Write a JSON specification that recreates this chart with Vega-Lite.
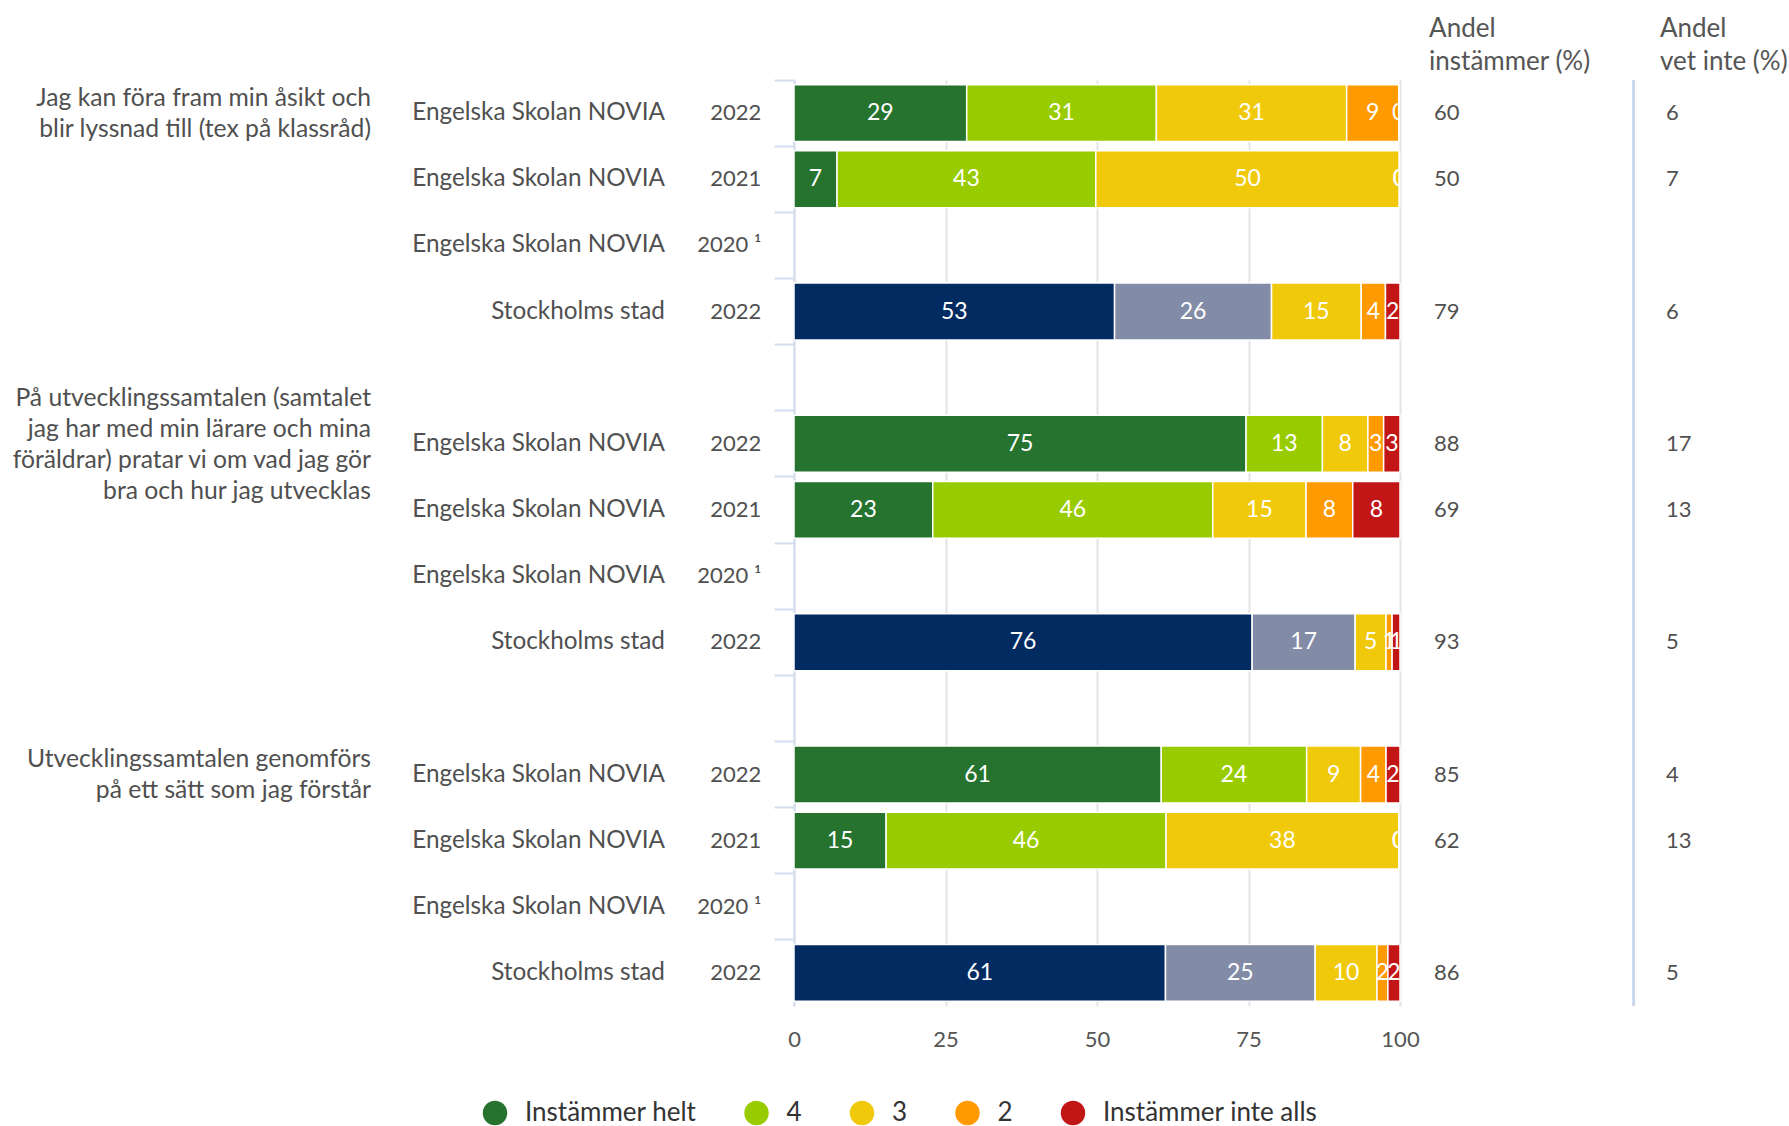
{
  "$schema": "https://vega.github.io/schema/vega-lite/v6.json",
  "autosize": "none",
  "width": 606,
  "height": 926,
  "padding": {"left": 794, "top": 80, "right": 389, "bottom": 120},
  "config": {"view": {"stroke": null}, "font": "Lato", "text": {"font": "Lato"}},
  "datasets": {
    "segments": [
      {"row": "q1|ESN|2022", "kategori": "Instämmer helt", "grade": 5, "value": 28.5, "label": "29"},
      {"row": "q1|ESN|2022", "kategori": "4", "grade": 4, "value": 31.3, "label": "31"},
      {"row": "q1|ESN|2022", "kategori": "3", "grade": 3, "value": 31.4, "label": "31"},
      {"row": "q1|ESN|2022", "kategori": "2", "grade": 2, "value": 8.6, "label": "9"},
      {"row": "q1|ESN|2022", "kategori": "Instämmer inte alls", "grade": 1, "value": 0, "label": "0"},
      {"row": "q1|ESN|2021", "kategori": "Instämmer helt", "grade": 5, "value": 7.1, "label": "7"},
      {"row": "q1|ESN|2021", "kategori": "4", "grade": 4, "value": 42.7, "label": "43"},
      {"row": "q1|ESN|2021", "kategori": "3", "grade": 3, "value": 50.1, "label": "50"},
      {"row": "q1|ESN|2021", "kategori": "2", "grade": 2, "value": 0, "label": "0"},
      {"row": "q1|ESN|2021", "kategori": "Instämmer inte alls", "grade": 1, "value": 0, "label": "0"},
      {"row": "q1|STH|2022", "kategori": "Stockholm helt", "grade": 5, "value": 52.9, "label": "53"},
      {"row": "q1|STH|2022", "kategori": "Stockholm 4", "grade": 4, "value": 25.9, "label": "26"},
      {"row": "q1|STH|2022", "kategori": "3", "grade": 3, "value": 14.8, "label": "15"},
      {"row": "q1|STH|2022", "kategori": "2", "grade": 2, "value": 4.0, "label": "4"},
      {"row": "q1|STH|2022", "kategori": "Instämmer inte alls", "grade": 1, "value": 2.4, "label": "2"},
      {"row": "q2|ESN|2022", "kategori": "Instämmer helt", "grade": 5, "value": 74.6, "label": "75"},
      {"row": "q2|ESN|2022", "kategori": "4", "grade": 4, "value": 12.6, "label": "13"},
      {"row": "q2|ESN|2022", "kategori": "3", "grade": 3, "value": 7.5, "label": "8"},
      {"row": "q2|ESN|2022", "kategori": "2", "grade": 2, "value": 2.6, "label": "3"},
      {"row": "q2|ESN|2022", "kategori": "Instämmer inte alls", "grade": 1, "value": 2.7, "label": "3"},
      {"row": "q2|ESN|2021", "kategori": "Instämmer helt", "grade": 5, "value": 22.9, "label": "23"},
      {"row": "q2|ESN|2021", "kategori": "4", "grade": 4, "value": 46.2, "label": "46"},
      {"row": "q2|ESN|2021", "kategori": "3", "grade": 3, "value": 15.4, "label": "15"},
      {"row": "q2|ESN|2021", "kategori": "2", "grade": 2, "value": 7.7, "label": "8"},
      {"row": "q2|ESN|2021", "kategori": "Instämmer inte alls", "grade": 1, "value": 7.8, "label": "8"},
      {"row": "q2|STH|2022", "kategori": "Stockholm helt", "grade": 5, "value": 75.6, "label": "76"},
      {"row": "q2|STH|2022", "kategori": "Stockholm 4", "grade": 4, "value": 17.0, "label": "17"},
      {"row": "q2|STH|2022", "kategori": "3", "grade": 3, "value": 5.1, "label": "5"},
      {"row": "q2|STH|2022", "kategori": "2", "grade": 2, "value": 1.0, "label": "1"},
      {"row": "q2|STH|2022", "kategori": "Instämmer inte alls", "grade": 1, "value": 1.3, "label": "1"},
      {"row": "q3|ESN|2022", "kategori": "Instämmer helt", "grade": 5, "value": 60.6, "label": "61"},
      {"row": "q3|ESN|2022", "kategori": "4", "grade": 4, "value": 24.0, "label": "24"},
      {"row": "q3|ESN|2022", "kategori": "3", "grade": 3, "value": 8.9, "label": "9"},
      {"row": "q3|ESN|2022", "kategori": "2", "grade": 2, "value": 4.2, "label": "4"},
      {"row": "q3|ESN|2022", "kategori": "Instämmer inte alls", "grade": 1, "value": 2.3, "label": "2"},
      {"row": "q3|ESN|2021", "kategori": "Instämmer helt", "grade": 5, "value": 15.2, "label": "15"},
      {"row": "q3|ESN|2021", "kategori": "4", "grade": 4, "value": 46.2, "label": "46"},
      {"row": "q3|ESN|2021", "kategori": "3", "grade": 3, "value": 38.4, "label": "38"},
      {"row": "q3|ESN|2021", "kategori": "2", "grade": 2, "value": 0, "label": "0"},
      {"row": "q3|ESN|2021", "kategori": "Instämmer inte alls", "grade": 1, "value": 0, "label": "0"},
      {"row": "q3|STH|2022", "kategori": "Stockholm helt", "grade": 5, "value": 61.3, "label": "61"},
      {"row": "q3|STH|2022", "kategori": "Stockholm 4", "grade": 4, "value": 24.7, "label": "25"},
      {"row": "q3|STH|2022", "kategori": "3", "grade": 3, "value": 10.2, "label": "10"},
      {"row": "q3|STH|2022", "kategori": "2", "grade": 2, "value": 1.8, "label": "2"},
      {"row": "q3|STH|2022", "kategori": "Instämmer inte alls", "grade": 1, "value": 2.0, "label": "2"}
    ],
    "rows": [
      {"row": "q1|ESN|2022", "entity": "Engelska Skolan NOVIA", "year": "2022", "andel": 60, "vetinte": 6, "question": "Jag kan föra fram min åsikt och\nblir lyssnad till (tex på klassråd)"},
      {"row": "q1|ESN|2021", "entity": "Engelska Skolan NOVIA", "year": "2021", "andel": 50, "vetinte": 7},
      {"row": "q1|ESN|2020", "entity": "Engelska Skolan NOVIA", "year": "2020 ¹"},
      {"row": "q1|STH|2022", "entity": "Stockholms stad", "year": "2022", "andel": 79, "vetinte": 6},
      {"row": "q2|ESN|2022", "entity": "Engelska Skolan NOVIA", "year": "2022", "andel": 88, "vetinte": 17, "question": "På utvecklingssamtalen (samtalet\njag har med min lärare och mina\nföräldrar) pratar vi om vad jag gör\nbra och hur jag utvecklas"},
      {"row": "q2|ESN|2021", "entity": "Engelska Skolan NOVIA", "year": "2021", "andel": 69, "vetinte": 13},
      {"row": "q2|ESN|2020", "entity": "Engelska Skolan NOVIA", "year": "2020 ¹"},
      {"row": "q2|STH|2022", "entity": "Stockholms stad", "year": "2022", "andel": 93, "vetinte": 5},
      {"row": "q3|ESN|2022", "entity": "Engelska Skolan NOVIA", "year": "2022", "andel": 85, "vetinte": 4, "question": "Utvecklingssamtalen genomförs\npå ett sätt som jag förstår"},
      {"row": "q3|ESN|2021", "entity": "Engelska Skolan NOVIA", "year": "2021", "andel": 62, "vetinte": 13},
      {"row": "q3|ESN|2020", "entity": "Engelska Skolan NOVIA", "year": "2020 ¹"},
      {"row": "q3|STH|2022", "entity": "Stockholms stad", "year": "2022", "andel": 86, "vetinte": 5}
    ],
    "headers": [
      {"col": "andel", "header": "Andel\ninstämmer (%)"},
      {"col": "vetinte", "header": "Andel\nvet inte (%)"}
    ]
  },
  "data": {"name": "segments"},
  "resolve": {"scale": {"y": "independent"}, "axis": {"x": "independent", "y": "independent"}},
  "layer": [
    {
      "resolve": {"axis": {"x": "independent", "y": "independent"}},
      "layer": [
        {
          "transform": [
            {"stack": "value", "groupby": ["row"], "sort": [{"field": "grade", "order": "descending"}], "as": ["x0", "x1"]}
          ],
          "mark": {"type": "bar", "stroke": "white", "strokeWidth": 1.5},
          "encoding": {
            "y": {
              "field": "row", "type": "nominal",
              "scale": {"domain": ["q1|ESN|2022", "q1|ESN|2021", "q1|ESN|2020", "q1|STH|2022", "gap1", "q2|ESN|2022", "q2|ESN|2021", "q2|ESN|2020", "q2|STH|2022", "gap2", "q3|ESN|2022", "q3|ESN|2021", "q3|ESN|2020", "q3|STH|2022"], "paddingInner": 0.14, "paddingOuter": 0.07},
              "axis": {"labels": false, "title": null, "domainColor": "#d3ddef", "domainWidth": 2, "tickColor": "#d3ddef", "tickSize": 20, "tickWidth": 2, "bandPosition": -0.081}
            },
            "x": {
              "field": "x0", "type": "quantitative",
              "scale": {"domain": [0, 100], "nice": false},
              "axis": {"orient": "bottom", "values": [0, 25, 50, 75, 100], "title": null, "domain": false, "ticks": false, "grid": true, "gridColor": "#e4e4e4", "gridWidth": 2, "labelFontSize": 22, "labelColor": "#555555", "labelPadding": 23, "labelFlush": false}
            },
            "x2": {"field": "x1"},
            "color": {
              "field": "kategori", "type": "nominal",
              "scale": {"domain": ["Instämmer helt", "4", "3", "2", "Instämmer inte alls", "Stockholm helt", "Stockholm 4"], "range": ["#26732f", "#99cc00", "#f0c90a", "#ff9a00", "#c11516", "#022b62", "#838ca6"]},
              "legend": {"values": ["Instämmer helt", "4", "3", "2", "Instämmer inte alls"], "orient": "none", "legendX": -312, "legendY": 1020, "direction": "horizontal", "title": null, "symbolType": "circle", "symbolSize": 600, "symbolStrokeWidth": 0, "labelFontSize": 26, "labelColor": "#333333", "labelOffset": 17, "columnPadding": 46.5, "labelLimit": 400}
            }
          }
        },
        {
          "transform": [
            {"stack": "value", "groupby": ["row"], "sort": [{"field": "grade", "order": "descending"}], "as": ["x0", "x1"]},
            {"calculate": "(datum.x0 + datum.x1) / 2", "as": "xm"}
          ],
          "mark": {"type": "text", "color": "white", "fontSize": 23, "align": "center", "baseline": "middle", "clip": true},
          "encoding": {
            "y": {"field": "row", "type": "nominal", "axis": null},
            "x": {"field": "xm", "type": "quantitative", "scale": {"domain": [0, 100], "nice": false}, "axis": null},
            "text": {"field": "label"}
          }
        },
        {
          "data": {"name": "rows"},
          "mark": {"type": "text", "color": "#505050", "fontSize": 24.3, "align": "right", "baseline": "middle"},
          "encoding": {
            "y": {"field": "row", "type": "nominal", "axis": null},
            "x": {"datum": -21.3, "type": "quantitative", "scale": {"domain": [0, 100], "nice": false}, "axis": null},
            "text": {"field": "entity"}
          }
        },
        {
          "data": {"name": "rows"},
          "mark": {"type": "text", "color": "#505050", "fontSize": 22, "align": "right", "baseline": "middle"},
          "encoding": {
            "y": {"field": "row", "type": "nominal", "axis": null},
            "x": {"datum": -5.4, "type": "quantitative", "scale": {"domain": [0, 100], "nice": false}, "axis": null},
            "text": {"field": "year"}
          }
        },
        {
          "data": {"name": "rows"},
          "transform": [{"filter": "isValid(datum.question) && datum.row != 'q2|ESN|2022'"}],
          "mark": {"type": "text", "color": "#505050", "fontSize": 24.7, "align": "right", "baseline": "middle", "lineBreak": "\n", "lineHeight": 31, "dy": -14.5},
          "encoding": {
            "y": {"field": "row", "type": "nominal", "axis": null},
            "x": {"datum": -69.8, "type": "quantitative", "scale": {"domain": [0, 100], "nice": false}, "axis": null},
            "text": {"field": "question"}
          }
        },
        {
          "data": {"name": "rows"},
          "transform": [{"filter": "isValid(datum.question) && datum.row == 'q2|ESN|2022'"}],
          "mark": {"type": "text", "color": "#505050", "fontSize": 24.7, "align": "right", "baseline": "middle", "lineBreak": "\n", "lineHeight": 31, "dy": -45},
          "encoding": {
            "y": {"field": "row", "type": "nominal", "axis": null},
            "x": {"datum": -69.8, "type": "quantitative", "scale": {"domain": [0, 100], "nice": false}, "axis": null},
            "text": {"field": "question"}
          }
        },
        {
          "data": {"name": "rows"},
          "transform": [{"filter": "isValid(datum.andel)"}],
          "mark": {"type": "text", "color": "#505050", "fontSize": 22, "align": "left", "baseline": "middle"},
          "encoding": {
            "y": {"field": "row", "type": "nominal", "axis": null},
            "x": {"datum": 105.6, "type": "quantitative", "scale": {"domain": [0, 100], "nice": false}, "axis": null},
            "text": {"field": "andel"}
          }
        },
        {
          "data": {"name": "rows"},
          "transform": [{"filter": "isValid(datum.vetinte)"}],
          "mark": {"type": "text", "color": "#505050", "fontSize": 22, "align": "left", "baseline": "middle"},
          "encoding": {
            "y": {"field": "row", "type": "nominal", "axis": null},
            "x": {"datum": 143.9, "type": "quantitative", "scale": {"domain": [0, 100], "nice": false}, "axis": null},
            "text": {"field": "vetinte"}
          }
        },
        {
          "mark": {"type": "rule", "color": "#c9d6ec", "strokeWidth": 2},
          "encoding": {
            "x": {"datum": 138.6, "type": "quantitative", "scale": {"domain": [0, 100], "nice": false}, "axis": null}
          }
        }
      ]
    },
    {
      "data": {"name": "headers"},
      "transform": [{"filter": "datum.col == 'andel'"}],
      "mark": {"type": "text", "color": "#555555", "fontSize": 26, "align": "left", "baseline": "middle", "lineBreak": "\n", "lineHeight": 33},
      "encoding": {
        "x": {"datum": 104.8, "type": "quantitative", "scale": {"domain": [0, 100], "nice": false}, "axis": null},
        "y": {"datum": 1.0547, "type": "quantitative", "scale": {"domain": [0, 1], "nice": false, "zero": false}, "axis": null},
        "text": {"field": "header"}
      }
    },
    {
      "data": {"name": "headers"},
      "transform": [{"filter": "datum.col == 'vetinte'"}],
      "mark": {"type": "text", "color": "#555555", "fontSize": 26, "align": "left", "baseline": "middle", "lineBreak": "\n", "lineHeight": 33},
      "encoding": {
        "x": {"datum": 142.9, "type": "quantitative", "scale": {"domain": [0, 100], "nice": false}, "axis": null},
        "y": {"datum": 1.0547, "type": "quantitative", "scale": {"domain": [0, 1], "nice": false, "zero": false}, "axis": null},
        "text": {"field": "header"}
      }
    }
  ]
}
